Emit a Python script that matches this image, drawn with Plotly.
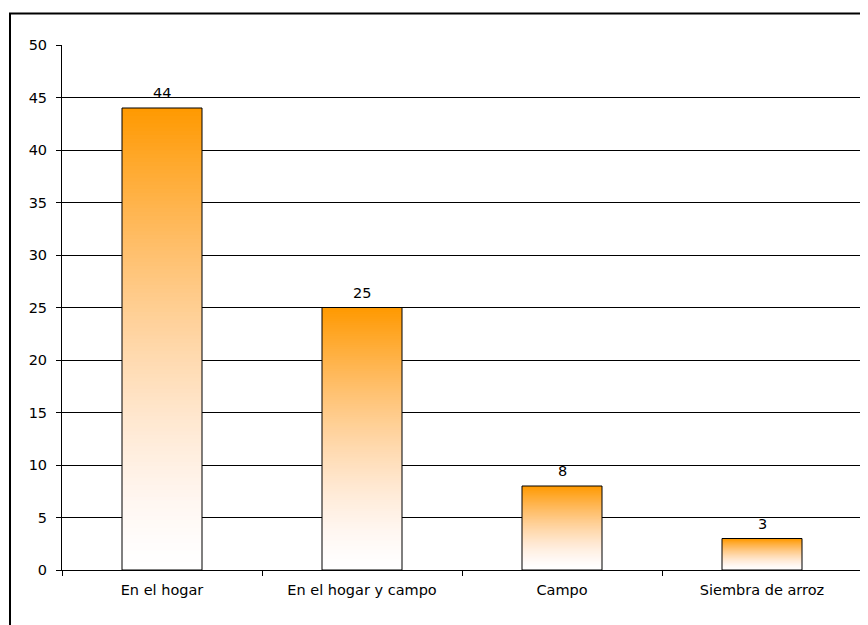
import plotly.graph_objects as go

categories = ["En el hogar", "En el hogar y campo", "Campo", "Siembra de arroz"]
values = [44, 25, 8, 3]
y_ticks = [0, 5, 10, 15, 20, 25, 30, 35, 40, 45, 50]

FONT = "DejaVu Sans, Liberation Sans, Arial, sans-serif"
FS = 14.5
N = 120  # gradient steps

# page body has an 8px margin: figure is placed at (8, 8)
W, H = 860, 617
ML, MR, MT, MB = 54, 6, 37, 55

fig = go.Figure()

def grad_color(t):
    # t: 0 at bottom (white) -> 1 at top (orange #FF9900)
    g = 255 - 102 * (t ** 1.3)
    b = 255 - 255 * (t ** 1.5)
    return f"rgb(255,{round(g)},{round(b)})"

for i in range(N):
    t = (i + 0.5) / N
    fig.add_trace(go.Bar(
        x=categories,
        y=[v * (1 - i / N) for v in values],
        base=[v * i / N for v in values],
        marker=dict(color=grad_color(t), line=dict(width=0)),
        width=0.4,
        hoverinfo="skip",
        showlegend=False,
    ))

# outline
fig.add_trace(go.Bar(
    x=categories,
    y=values,
    marker=dict(color="rgba(0,0,0,0)", line=dict(color="black", width=1)),
    width=0.4,
    hoverinfo="skip",
    showlegend=False,
))

for c, v in zip(categories, values):
    fig.add_annotation(x=c, y=v, text=str(v), showarrow=False,
                       yanchor="bottom", yshift=5,
                       font=dict(family=FONT, size=FS, color="black"))

pw = W - ML - MR
ph = H - MT - MB
# plot-area right border (gray)
fig.add_shape(type="line", xref="paper", yref="paper", x0=1, x1=1, y0=0, y1=1,
              line=dict(color="#808080", width=1))
# outer chart border
fig.add_shape(type="rect", xref="paper", yref="paper",
              x0=(2 - ML) / pw, x1=1.05, y0=-0.2, y1=(ph + MT - 5.5) / ph,
              line=dict(color="black", width=2), fillcolor="rgba(0,0,0,0)", layer="above")

fig.update_layout(
    width=W, height=H,
    margin=dict(l=ML, r=MR, t=MT, b=MB),
    paper_bgcolor="white", plot_bgcolor="white",
    barmode="overlay",
    showlegend=False,
    hovermode=False,
    font=dict(family=FONT, size=FS, color="black"),
    xaxis=dict(
        type="category",
        showline=True, linecolor="black", linewidth=1,
        ticks="outside", tickson="boundaries", ticklen=5, tickcolor="black",
        showgrid=False,
        ticklabelstandoff=7,
        tickfont=dict(family=FONT, size=FS, color="black"),
        range=[-0.5, 3.5],
    ),
    yaxis=dict(
        range=[0, 50], tickvals=y_ticks,
        showline=True, linecolor="black", linewidth=1,
        ticks="outside", ticklen=5, tickcolor="black",
        showgrid=True, gridcolor="black", gridwidth=1,
        zeroline=False,
        ticklabelstandoff=6,
        tickfont=dict(family=FONT, size=FS, color="black"),
    ),
)

fig.write_html("out.html")
